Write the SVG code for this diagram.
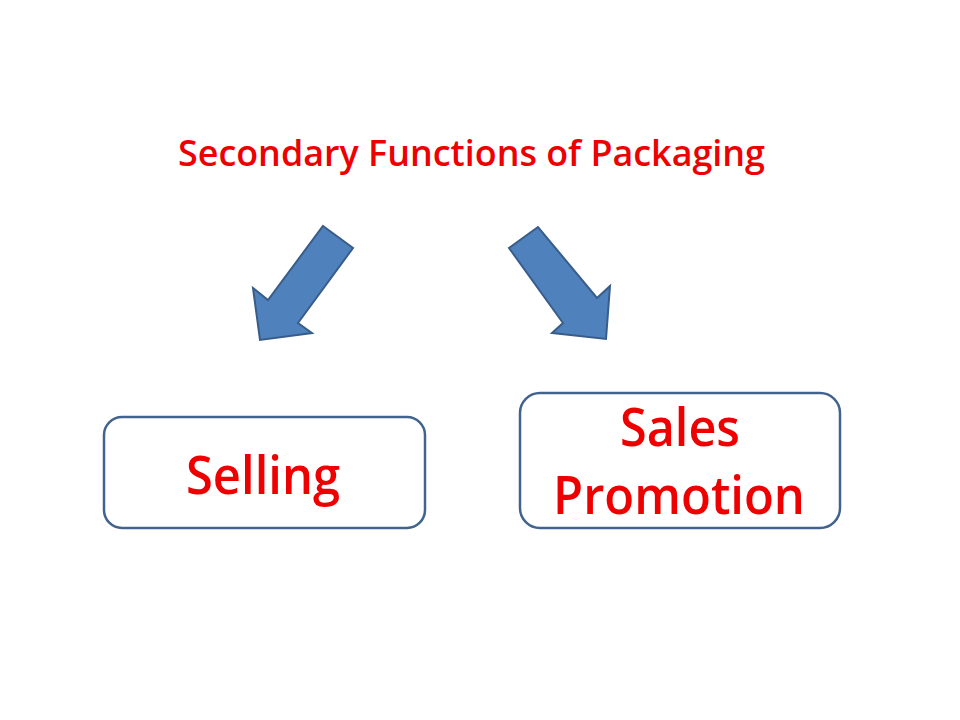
<svg xmlns="http://www.w3.org/2000/svg" width="960" height="720" viewBox="0 0 960 720">
<style>
.lbl{font-family:"Open Sans","Liberation Sans",Arial,sans-serif;fill:#ee0000;font-weight:600;}
.box{fill:#ffffff;stroke:#41638e;stroke-width:2.5;}
.arr{fill:#4f81bd;stroke:#385d8a;stroke-width:2;stroke-linejoin:miter;}
</style>
<rect width="960" height="720" fill="#ffffff"/>
<g id="title">
<text class="lbl" x="178" y="166" font-size="36" textLength="587" lengthAdjust="spacingAndGlyphs">Secondary Functions of Packaging</text>
</g>
<g id="connectors">
<polygon class="arr" points="323,226 353,248 298,323 312,333 260,340 253,288 268,300"/>
<polygon class="arr" points="538,227 509,248 563,323 552,333 606,339 610,286 597,298"/>
</g>
<g id="selling">
<rect class="box" x="104" y="417" width="321" height="111" rx="18"/>
<text class="lbl" x="186" y="494" font-size="52" textLength="154" lengthAdjust="spacingAndGlyphs">Selling</text>
</g>
<g id="sales-promotion">
<rect class="box" x="520" y="393" width="320" height="135" rx="20"/>
<text class="lbl" x="620" y="446" font-size="52" textLength="120" lengthAdjust="spacingAndGlyphs">Sales</text>
<text class="lbl" x="553" y="514" font-size="52" textLength="252" lengthAdjust="spacingAndGlyphs">Promotion</text>
</g>
</svg>
